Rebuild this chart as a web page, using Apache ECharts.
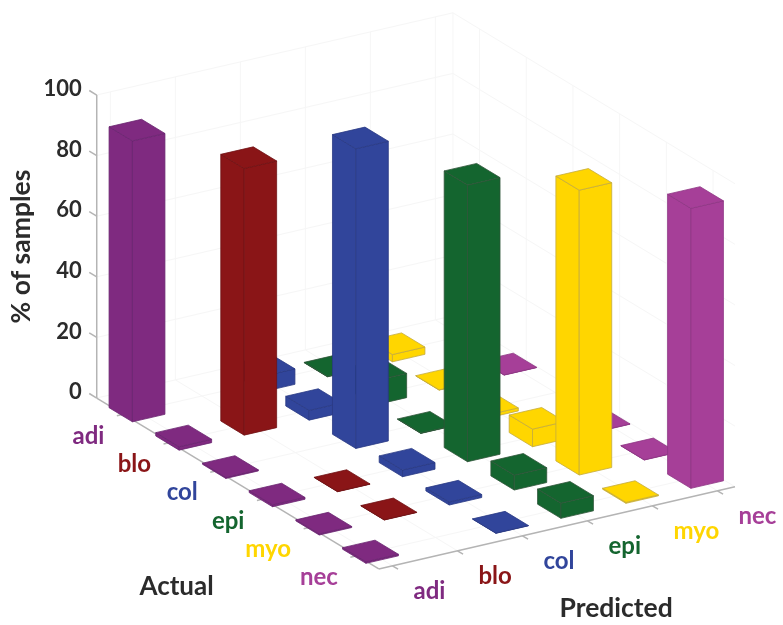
<!DOCTYPE html>
<html>
<head>
<meta charset="utf-8">
<title>% of samples</title>
<style>
  html, body { margin: 0; padding: 0; background: #fff; }
  #chart { width: 783px; height: 625px; }
</style>
<script src="https://cdn.jsdelivr.net/npm/echarts@6/dist/echarts.min.js"></script>
</head>
<body>
<div id="chart"></div>
<script>
var categories = ['adi', 'blo', 'col', 'epi', 'myo', 'nec'];
var zTicks = [0, 20, 40, 60, 80, 100];

// one list per predicted class, values run over the actual classes
var predictedAdi = [92.7, 1.1, 0.35, 0.6, 0.35, 0.5];
var predictedBlo = [0, 88, 0, 0.1, 0.1, 0];
var predictedCol = [5.1, 3.2, 98.9, 2.2, 1, 0.1];
var predictedEpi = [0.1, 8, 0.1, 91.3, 4.9, 5];
var predictedMyo = [2.4, 0.1, 1, 5.8, 94, 0.3];
var predictedNec = [0, 0.1, 0, 0.1, 0.1, 92.4];
var predictedValues = [predictedAdi, predictedBlo, predictedCol, predictedEpi, predictedMyo, predictedNec];

var classColors = ['#7F2A80', '#8A1517', '#31459B', '#14652F', '#FFD600', '#A63F98'];
var edgeColors = ['#6a2470', '#701214', '#2a3a84', '#2f5438', '#c4ab3e', '#8e3684'];

// fixed view of the 3d box: screen step for one unit of each data axis
var view = {
  origin: [137, 411],
  p: [65, -15],
  a: [46.7, 28.3],
  z: [0, -3.03],
  pMin: -0.21, pMax: 5.27,
  aMin: -0.57, aMax: 5.47,
  barHalf: 0.25
};

function project(p, a, z) {
  return [
    view.origin[0] + p * view.p[0] + a * view.a[0] + z * view.z[0],
    view.origin[1] + p * view.p[1] + a * view.a[1] + z * view.z[1]
  ];
}

// box frame: [p1, a1, z1, p2, a2, z2, kind]
var frameLines = [];
categories.forEach(function (c, i) {
  frameLines.push([i, view.aMin, 0, i, view.aMax, 0, 'grid']);
  frameLines.push([view.pMin, i, 0, view.pMax, i, 0, 'grid']);
  frameLines.push([i, view.aMin, 0, i, view.aMin, 100, 'grid']);
  frameLines.push([view.pMax, i, 0, view.pMax, i, 100, 'grid']);
  frameLines.push([i, view.aMax, 0, i, view.aMax + 0.12, 0, 'axis']);
  frameLines.push([view.pMin, i, 0, view.pMin - 0.1, i, 0, 'axis']);
});
zTicks.forEach(function (z) {
  frameLines.push([view.pMin, view.aMin, z, view.pMax, view.aMin, z, 'grid']);
  frameLines.push([view.pMax, view.aMin, z, view.pMax, view.aMax, z, 'grid']);
  frameLines.push([view.pMin, view.aMin, z, view.pMin, view.aMin - 0.16, z, 'axis']);
});
frameLines.push([view.pMax, view.aMin, 0, view.pMax, view.aMin, 100, 'grid']);
frameLines.push([view.pMin, view.aMin, 0, view.pMin, view.aMin, 100, 'axis']);
frameLines.push([view.pMin, view.aMin, 0, view.pMin, view.aMax, 0, 'axis']);
frameLines.push([view.pMin, view.aMax, 0, view.pMax, view.aMax, 0, 'axis']);

// bars painted from the back corner to the front corner
var barCells = [];
predictedValues.forEach(function (list, p) {
  list.forEach(function (v, a) {
    if (v > 0) barCells.push([p, a, v]);
  });
});
barCells.sort(function (m, n) { return (m[1] - m[0]) - (n[1] - n[0]); });

// text: [text, p, a, z, dx, dy, align, color, size, rotate]
var ink = '#2b2b2b';
var textItems = [];
categories.forEach(function (c, i) {
  textItems.push([c, view.pMin, i, 0, -19, 22, 'right', classColors[i], 24, 0]);
  textItems.push([c, i, view.aMax, 0, 21, 25, 'left', classColors[i], 24, 0]);
});
zTicks.forEach(function (z) {
  textItems.push([String(z), view.pMin, view.aMin, z, -15, -6, 'right', ink, 22, 0]);
});
textItems.push(['Actual', 0, 5.47, 0, -253, 21, 'left', ink, 26, 0]);
textItems.push(['Predicted', 3, 5.47, 0, -28, 88, 'left', ink, 26.5, 0]);
textItems.push(['% of samples', view.pMin, view.aMin, 50, -75, 0, 'center', ink, 26.5, 90]);

function poly(api, pts, fill, stroke) {
  return {
    type: 'polygon',
    shape: { points: pts.map(function (q) { return api.coord(q); }) },
    style: { fill: fill, stroke: stroke, lineWidth: 0.8, lineJoin: 'round' }
  };
}

function renderFrame(params, api) {
  var f = frameLines[params.dataIndex];
  var a = api.coord(project(f[0], f[1], f[2]));
  var b = api.coord(project(f[3], f[4], f[5]));
  return {
    type: 'line',
    shape: { x1: a[0], y1: a[1], x2: b[0], y2: b[1] },
    style: { stroke: f[6] === 'axis' ? '#b4b4b4' : '#f6f6f6', lineWidth: f[6] === 'axis' ? 1.5 : 1 }
  };
}

function renderBar(params, api) {
  var cell = barCells[params.dataIndex];
  var p = cell[0], a = cell[1], v = cell[2], h = view.barHalf;
  var fill = classColors[p], stroke = edgeColors[p];
  var left0 = project(p - h, a - h, 0), front0 = project(p - h, a + h, 0), right0 = project(p + h, a + h, 0);
  var left1 = project(p - h, a - h, v), front1 = project(p - h, a + h, v), right1 = project(p + h, a + h, v);
  var back1 = project(p + h, a - h, v);
  return {
    type: 'group',
    children: [
      poly(api, [left0, front0, front1, left1], fill, stroke),
      poly(api, [front0, right0, right1, front1], fill, stroke),
      poly(api, [left1, front1, right1, back1], fill, stroke)
    ]
  };
}

function renderText(params, api) {
  var t = textItems[params.dataIndex];
  var pos = api.coord(project(t[1], t[2], t[3]));
  return {
    type: 'text',
    x: pos[0] + t[4],
    y: pos[1] + t[5],
    rotation: t[9] * Math.PI / 180,
    style: {
      text: t[0],
      fill: t[7],
      font: 'bold ' + t[8] + 'px Lato, "Open Sans", sans-serif',
      align: t[6],
      verticalAlign: 'middle'
    }
  };
}

var chart = echarts.init(document.getElementById('chart'), null, { renderer: 'canvas' });
chart.setOption({
  animation: false,
  backgroundColor: '#fff',
  grid: { left: 0, right: 0, top: 0, bottom: 0 },
  // hidden screen axes that the projected points are placed on
  xAxis: { type: 'value', min: 0, max: 783, show: false },
  yAxis: { type: 'value', min: 0, max: 625, inverse: true, show: false },
  series: [
    { type: 'custom', coordinateSystem: 'cartesian2d', clip: false, z: 1, silent: true,
      data: frameLines.map(function (f, i) { return [i]; }), renderItem: renderFrame },
    { type: 'custom', coordinateSystem: 'cartesian2d', clip: false, z: 2, silent: true,
      data: barCells.map(function (c) { return c; }), encode: { x: 0, y: 1 }, renderItem: renderBar },
    { type: 'custom', coordinateSystem: 'cartesian2d', clip: false, z: 3, silent: true,
      data: textItems.map(function (t, i) { return [i]; }), renderItem: renderText }
  ]
});
</script>
</body>
</html>
